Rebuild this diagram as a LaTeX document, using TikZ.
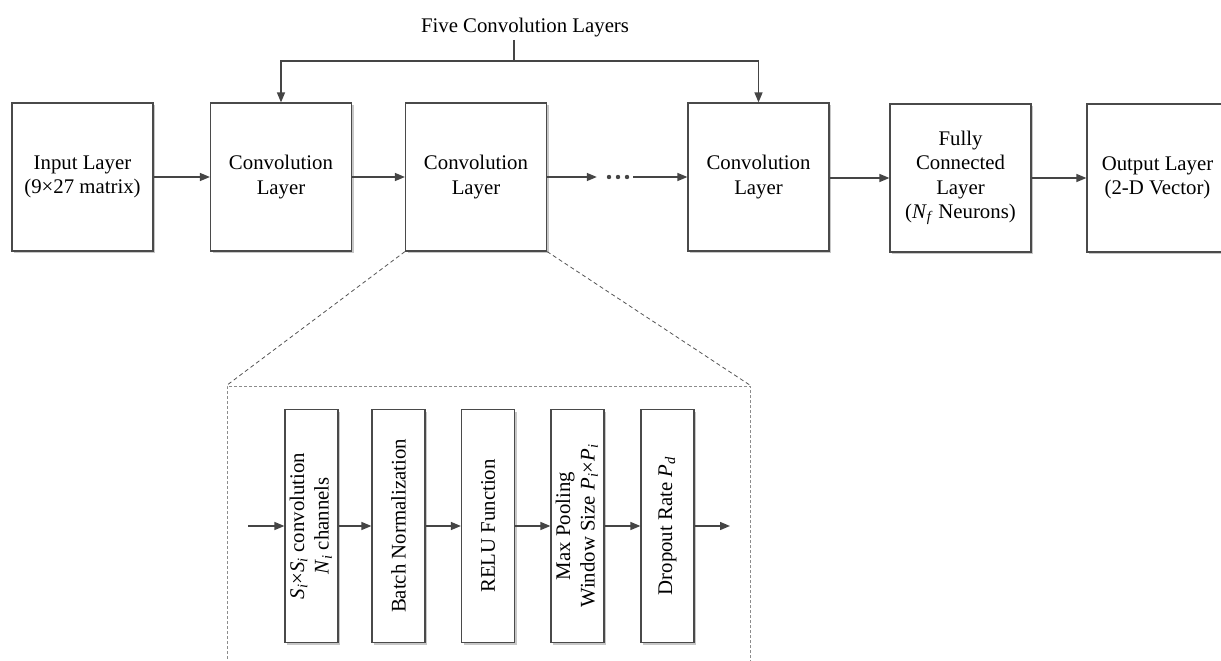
\documentclass[tikz,border=0pt]{standalone}
\usepackage{fontspec}
\setmainfont{Liberation Serif}
\usepackage{graphicx}
\usetikzlibrary{arrows.meta,shadows,calc}
\definecolor{linec}{HTML}{454545}
\definecolor{boxc}{HTML}{4A4A4A}
\definecolor{framec}{HTML}{8C8C8C}
\definecolor{diagc}{HTML}{555555}
\newcommand\diagfont{\fontsize{20.8}{24.5}\selectfont}
\newcommand\subit[2]{\textit{#1}\textsubscript{\textit{#2}}}
\begin{document}
\begin{tikzpicture}[x=1pt,y=-1pt,
  line/.style={draw=linec, line width=1.4pt},
  arr/.style={line, -{Triangle[length=10pt,width=8pt]}},
  shad/.style={drop shadow={shadow xshift=2pt, shadow yshift=-2pt, fill=black!22, opacity=1}},
  layer/.style={draw=boxc, line width=1.2pt, fill=white, minimum width=141pt, minimum height=148pt,
    align=center, inner sep=0pt, font=\diagfont, shad},
  op/.style={draw=boxc, line width=1.2pt, fill=white, minimum width=53pt, minimum height=233pt,
    inner sep=0pt, font=\diagfont, shad},
  frame/.style={draw=framec, line width=1pt, dash pattern=on 3pt off 2pt, minimum width=523pt, minimum height=294pt, inner sep=0pt},
  diag/.style={draw=diagc, line width=0.8pt, dash pattern=on 4pt off 3pt}
]
\clip (0,0) rectangle (1221,661);
\fill[white] (0,0) rectangle (1221,661);

% top title and bracket
\node[font=\diagfont, inner sep=0pt, anchor=base] (title) at (525,33) {Five Convolution Layers};
\coordinate (stem) at (514,40);
\coordinate (bar) at (514,61);

% main layers
\node[layer] (in)  at (82.5,177)  {Input Layer\\(9×27 matrix)};
\node[layer] (c1)  at (281,177)   {Convolution\\Layer};
\node[layer] (c2)  at (476,177)   {Convolution\\Layer};
\node[layer] (c3)  at (758.5,177) {Convolution\\Layer};
\node[layer] (fc)  at (960.5,178) {Fully\\Connected\\Layer\\(\subit{N}{f} Neurons)};
\node[layer] (out) at (1157.5,178) {Output Layer\\(2-D Vector)};
\node[minimum width=36pt, minimum height=6pt, inner sep=0pt] (dots) at (615,177) {};
\foreach \dx in {-6,3,12} \fill[linec] ($(dots.center)+(\dx,0)$) circle (2.2);

\draw[line] (stem) -- (bar);
\draw[arr] (bar) -| (c1.north);
\draw[arr] (bar) -| (c3.north);
\draw[arr] (in.east) -- (c1.west);
\draw[arr] (c1.east) -- (c2.west);
\draw[arr] (c2.east) -- (dots.west);
\draw[arr] (dots.east) -- (c3.west);
\draw[arr] (c3.east |- fc.west) -- (fc.west);
\draw[arr] (fc.east) -- (out.west);

% zoomed detail
\node[frame] (zf) at (488.5,533) {};
\draw[diag] (c2.south west) -- (zf.north west);
\draw[diag] (c2.south east) -- (zf.north east);

\node[op] (b1) at (311.5,526) {\rotatebox{90}{\begin{tabular}{@{}c@{}}\subit{S}{i}×\subit{S}{i} convolution\\ \subit{N}{i} channels\end{tabular}}};
\node[op] (b2) at (398.5,526) {\rotatebox{90}{Batch Normalization}};
\node[op] (b3) at (488,526)   {\rotatebox{90}{RELU Function}};
\node[op] (b4) at (577.5,526) {\rotatebox{90}{\begin{tabular}{@{}c@{}}Max Pooling\\ Window Size \subit{P}{i}×\subit{P}{i}\end{tabular}}};
\node[op] (b5) at (667.5,526) {\rotatebox{90}{Dropout Rate \subit{P}{d}}};
\coordinate (sin) at (248,526);
\coordinate (sout) at (730,526);

\draw[arr] (sin) -- (b1.west);
\draw[arr] (b1.east) -- (b2.west);
\draw[arr] (b2.east) -- (b3.west);
\draw[arr] (b3.east) -- (b4.west);
\draw[arr] (b4.east) -- (b5.west);
\draw[arr] (b5.east) -- (sout);
\end{tikzpicture}
\end{document}
